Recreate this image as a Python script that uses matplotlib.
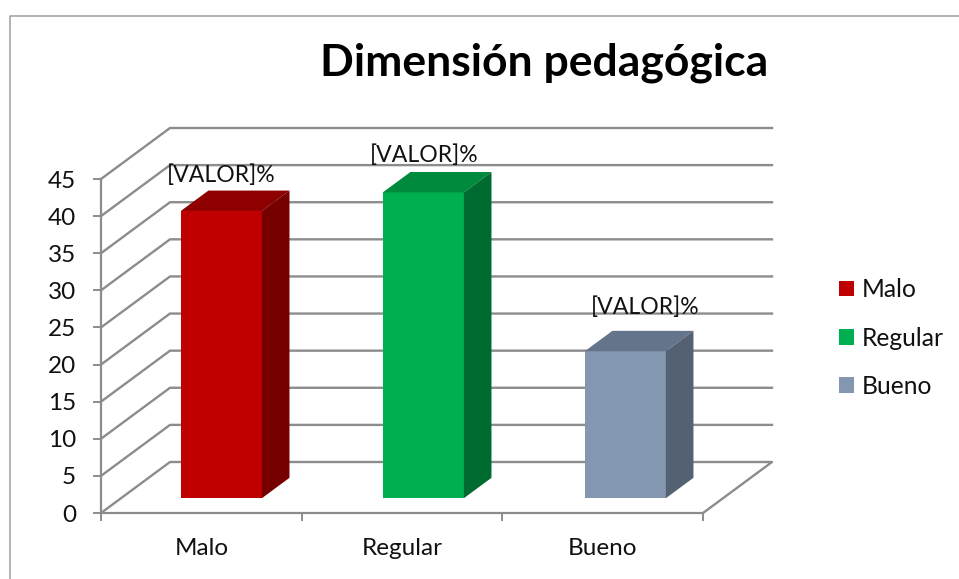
import matplotlib
matplotlib.use("Agg")
import matplotlib.pyplot as plt
from matplotlib.lines import Line2D
from matplotlib.patches import Patch, Polygon

categories = ["Malo", "Regular", "Bueno"]
values = [38.7, 41.2, 19.8]
bar_labels = ["[VALOR]%", "[VALOR]%", "[VALOR]%"]
y_ticks = [0, 5, 10, 15, 20, 25, 30, 35, 40, 45]

front_colors = ["#C00000", "#00B050", "#8497B0"]
top_colors = ["#8E0000", "#008A3E", "#64748A"]
side_colors = ["#760000", "#006B30", "#546172"]

# label offset from the back top edge of each bar, px
label_dx = [0, 1, 20]
label_dy = [15, 17, 24]

W, H = 959, 579
GRAY = "#8C8C8C"

plt.rcParams["font.family"] = ["Lato", "DejaVu Sans"]

fig = plt.figure(figsize=(W / 100, H / 100), dpi=100)
ax = fig.add_axes([101 / W, (H - 513) / H, 602 / W, 334 / H])
ax.set_xlim(0, 3)
ax.set_ylim(0, 45)

# fake 3d: how far the back wall sits from the front plane, in data units
depth_x = 69 / (602 / 3)
depth_y = 51 / (334 / 45)
bar_width = 0.404
bar_step = 1.0066  # bars sit a touch wider apart than the ticks
bar_front = 0.29   # fraction of depth where bar starts
bar_depth = 0.40   # fraction of depth the bar takes

# walls
for v in y_ticks[1:]:
    ax.plot([0, depth_x, 3 + depth_x], [v, v + depth_y, v + depth_y],
            color=GRAY, lw=1.7, clip_on=False, zorder=1)
ax.plot([0, depth_x, 3 + depth_x, 3], [0, depth_y, depth_y, 0],
        color=GRAY, lw=1.7, clip_on=False, zorder=1)

for i in range(0, len(values)):
    x0 = i * bar_step + 0.5 + bar_front * depth_x - bar_width / 2
    x1 = x0 + bar_width
    y0 = bar_front * depth_y
    y1 = y0 + values[i]
    dx = bar_depth * depth_x
    dy = bar_depth * depth_y

    ax.bar(x0, values[i], width=bar_width, bottom=y0, align="edge",
           color=front_colors[i], clip_on=False, zorder=3)
    ax.add_patch(Polygon([(x0, y1), (x0 + dx, y1 + dy), (x1 + dx, y1 + dy), (x1, y1)],
                         closed=True, facecolor=top_colors[i], edgecolor="none",
                         clip_on=False, zorder=3))
    ax.add_patch(Polygon([(x1, y0), (x1 + dx, y0 + dy), (x1 + dx, y1 + dy), (x1, y1)],
                         closed=True, facecolor=side_colors[i], edgecolor="none",
                         clip_on=False, zorder=3))
    ax.annotate(bar_labels[i], xy=((x0 + x1) / 2, y1 + dy),
                xytext=(label_dx[i] * 0.72, label_dy[i] * 0.72), textcoords="offset points",
                ha="center", va="center", fontsize=16.6, color="#111111", zorder=4,
                annotation_clip=False)

ax.set_xticks([0, 1, 2, 3])
ax.set_xticklabels([])
ax.set_xticks([0.5, 1.5, 2.5], minor=True)
ax.set_xticklabels(categories, minor=True, fontsize=17.5, color="#111111")
ax.tick_params(axis="x", which="minor", length=0, pad=18)
ax.tick_params(axis="x", which="major", length=6, width=1.4, color=GRAY)
ax.set_yticks(y_ticks)
ax.tick_params(axis="y", length=6, width=1.4, color=GRAY, labelsize=17.5, labelcolor="#111111", pad=12)

for s in ["top", "right"]:
    ax.spines[s].set_visible(False)
for s in ["left", "bottom"]:
    ax.spines[s].set_color(GRAY)
    ax.spines[s].set_linewidth(1.6)

fig.text(544 / W, 1 - 63 / H, "Dimensión pedagógica", ha="center", va="center",
         fontsize=32, fontweight="bold", color="black")

handles = [Patch(facecolor=c, edgecolor="none", label=n) for c, n in zip(front_colors, categories)]
fig.legend(handles=handles, loc="center left", bbox_to_anchor=(817 / W, 1 - 338 / H),
           frameon=False, fontsize=17.7, handlelength=0.61, handleheight=0.61,
           handletextpad=0.33, labelspacing=1.03, labelcolor="#111111")

# chart area border
fig.add_artist(Line2D([10 / W, 10 / W, 1], [0, 1 - 16 / H, 1 - 16 / H],
                      color="#A6A6A6", lw=1.2))

fig.savefig("out.png", dpi=100)
